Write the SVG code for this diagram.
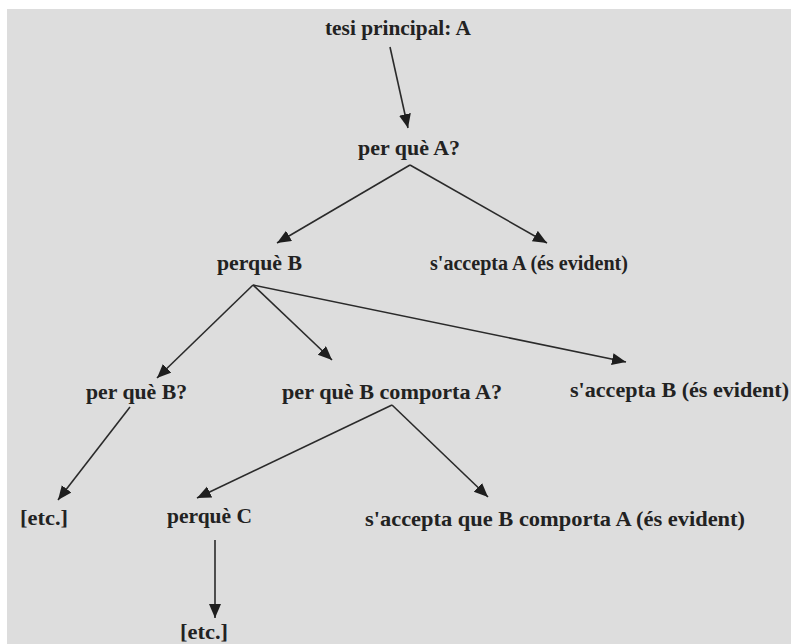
<svg xmlns="http://www.w3.org/2000/svg" width="791" height="644" viewBox="0 0 791 644">
<style>
.t{font-family:"Liberation Serif","Times New Roman",serif;font-size:22px;font-weight:bold;fill:#222222}
.c line{stroke:#2a2a2a;stroke-width:1.6;marker-end:url(#ah)}
</style>
<defs>
<marker id="ah" markerUnits="userSpaceOnUse" markerWidth="16" markerHeight="14" refX="14" refY="6" orient="auto">
<path d="M0,0 L14,6 L0,12 Z" fill="#1e1e1e"/>
</marker>
</defs>
<rect x="0" y="0" width="791" height="644" fill="#ffffff"/>
<rect x="7" y="9" width="784" height="635" fill="#dddddd"/>
<g class="c" id="connectors">
<line x1="390" y1="47" x2="408" y2="128"/>
<line x1="410" y1="165" x2="277" y2="243"/>
<line x1="410" y1="165" x2="547" y2="243"/>
<line x1="253" y1="285" x2="157" y2="378"/>
<line x1="253" y1="285" x2="332" y2="360"/>
<line x1="253" y1="285" x2="626" y2="362"/>
<line x1="130" y1="407" x2="58" y2="500"/>
<line x1="392" y1="405" x2="197" y2="498"/>
<line x1="392" y1="405" x2="488" y2="497"/>
<line x1="215" y1="540" x2="215" y2="618"/>
</g>
<g id="n1"><text class="t" x="325" y="35" textLength="146" lengthAdjust="spacingAndGlyphs">tesi principal: A</text></g>
<g id="n2"><text class="t" x="358" y="155" textLength="102" lengthAdjust="spacingAndGlyphs">per què A?</text></g>
<g id="n3"><text class="t" x="217" y="270" textLength="85" lengthAdjust="spacingAndGlyphs">perquè B</text></g>
<g id="n4"><text class="t" x="430" y="270" textLength="198" lengthAdjust="spacingAndGlyphs">s'accepta A (és evident)</text></g>
<g id="n5"><text class="t" x="86" y="399" textLength="101" lengthAdjust="spacingAndGlyphs">per què B?</text></g>
<g id="n6"><text class="t" x="282" y="399" textLength="220" lengthAdjust="spacingAndGlyphs">per què B comporta A?</text></g>
<g id="n7"><text class="t" x="570" y="397" textLength="219" lengthAdjust="spacingAndGlyphs">s'accepta B (és evident)</text></g>
<g id="n8"><text class="t" x="20" y="525" textLength="48" lengthAdjust="spacingAndGlyphs">[etc.]</text></g>
<g id="n9"><text class="t" x="167" y="523" textLength="85" lengthAdjust="spacingAndGlyphs">perquè C</text></g>
<g id="n10"><text class="t" x="365" y="526" textLength="380" lengthAdjust="spacingAndGlyphs">s'accepta que B comporta A (és evident)</text></g>
<g id="n11"><text class="t" x="180" y="639" textLength="48" lengthAdjust="spacingAndGlyphs">[etc.]</text></g>
</svg>
